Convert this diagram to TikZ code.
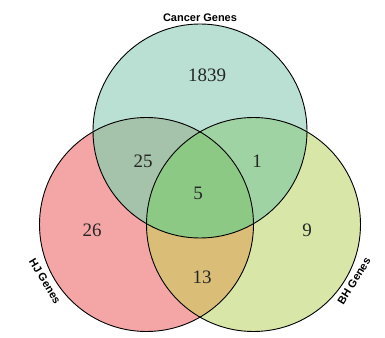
\documentclass[tikz,border=0pt]{standalone}
\usepackage{fontspec}
\setmainfont{Liberation Serif}
\setsansfont{Liberation Sans}

\definecolor{canC}{HTML}{B9E0D2}
\definecolor{hjC}{HTML}{F4A6A6}
\definecolor{bhC}{HTML}{D8E6A8}
\definecolor{canhjC}{HTML}{A5C2AA}
\definecolor{canbhC}{HTML}{9FD3A3}
\definecolor{hjbhC}{HTML}{DABE78}
\definecolor{allC}{HTML}{8CC985}

\begin{document}
\begin{tikzpicture}[
		x=1pt, y=1pt,
		count/.style={font=\fontsize{19}{21}\selectfont, text=black!85},
		setname/.style={font=\sffamily\bfseries\fontsize{11}{12}\selectfont},
		outline/.style={draw=black, line width=0.9pt}
		]
		\def\rad{107pt}
		\useasboundingbox (0,0) rectangle (385,337);
		
		% Set centres
		\coordinate (can) at (200,206);
		\coordinate (hj) at (146.5,112.5);
		\coordinate (bh) at (253.5,112.5);
		
		% -------- Single sets --------
		\fill[canC] (can) circle[radius=\rad];
		\fill[hjC] (hj) circle[radius=\rad];
		\fill[bhC] (bh) circle[radius=\rad];
		
		% -------- Pairwise overlaps --------
		\begin{scope}
			\clip (can) circle[radius=\rad];
			\fill[canhjC] (hj) circle[radius=\rad];
			\fill[canbhC] (bh) circle[radius=\rad];
		\end{scope}
		\begin{scope}
			\clip (hj) circle[radius=\rad];
			\fill[hjbhC] (bh) circle[radius=\rad];
		\end{scope}
		
		% -------- Triple overlap --------
		\begin{scope}
			\clip (can) circle[radius=\rad];
			\clip (hj) circle[radius=\rad];
			\fill[allC] (bh) circle[radius=\rad];
		\end{scope}
		
		% Outlines
		\draw[outline] (can) circle[radius=\rad];
		\draw[outline] (hj) circle[radius=\rad];
		\draw[outline] (bh) circle[radius=\rad];
		
		% -------- Counts --------
		\node[count] (n1839) at (207,262) {1839};
		\node[count] (n25) at (143,176) {25};
		\node[count] (n1) at (257,176) {1};
		\node[count] (n5) at (198,144) {5};
		\node[count] (n26) at (92,107) {26};
		\node[count] (n9) at (307,107) {9};
		\node[count] (n13) at (202,60) {13};
		
		% Set labels
		\node[setname] (lcan) at (200,319) {Cancer Genes};
		\node[setname, rotate=-59] (lhj) at (45,56) {HJ Genes};
		\node[setname, rotate=58] (lbh) at (354,56) {BH Genes};
		
	\end{tikzpicture}
\end{document}
